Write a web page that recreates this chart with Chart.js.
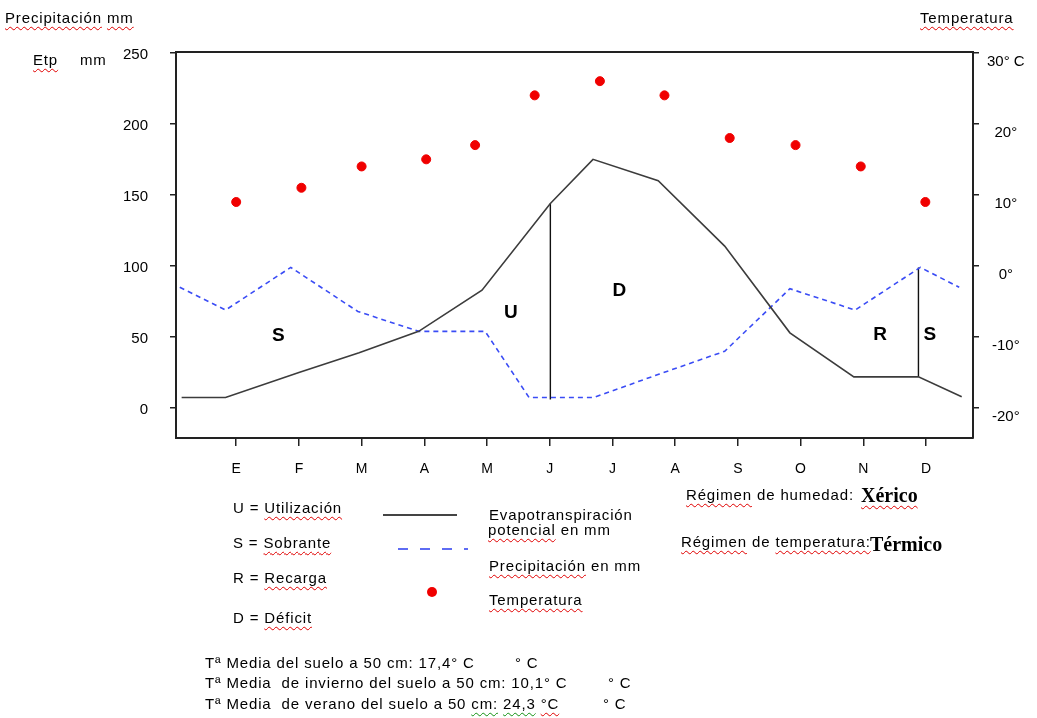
<!DOCTYPE html>
<html>
<head>
<meta charset="utf-8">
<script src="https://cdn.jsdelivr.net/npm/chart.js@4.4.1/dist/chart.umd.min.js"></script>
<style>
  html, body { margin:0; padding:0; background:#fff; }
  #wrap { position:relative; width:1037px; height:718px; overflow:hidden; font-family:"Liberation Sans", Arial, sans-serif; font-size:15px; color:#000; }
  #c { position:absolute; left:0; top:0; }
  .t { position:absolute; white-space:pre; line-height:17px; letter-spacing:0.85px; }
  .w { text-decoration: underline wavy #e00000; text-decoration-thickness:1px; text-underline-offset:3px; }
  .g { text-decoration: underline wavy #109010; text-decoration-thickness:1px; text-underline-offset:3px; }
  .serif { font-family:"Liberation Serif","Times New Roman",serif; font-weight:bold; font-size:20px; letter-spacing:0; }
  svg { position:absolute; left:0; top:0; }
</style>
</head>
<body>
<div id="wrap">
  <canvas id="c" width="1037" height="718"></canvas>
  <svg width="1037" height="718">
    <line x1="383" y1="515" x2="457" y2="515" stroke="#444" stroke-width="2"/>
    <line x1="398" y1="549" x2="468" y2="549" stroke="#2a3cf0" stroke-width="1.6" stroke-dasharray="10 12"/>
    <circle cx="432" cy="592" r="5" fill="#f00000"/>
  </svg>
  <div class="t" style="left:5px;top:9px;"><span class="w">Precipitación</span> <span class="w">mm</span></div>
  <div class="t" style="left:920px;top:9px;"><span class="w">Temperatura</span></div>
  <div class="t" style="left:33px;top:51px;"><span class="w">Etp</span></div>
  <div class="t" style="left:80px;top:51px;">mm</div>

  <div class="t" style="left:233px;top:499px;">U = <span class="w">Utilización</span></div>
  <div class="t" style="left:233px;top:534px;">S = <span class="w">Sobrante</span></div>
  <div class="t" style="left:233px;top:569px;">R = <span class="w">Recarga</span></div>
  <div class="t" style="left:233px;top:609px;">D = <span class="w">Déficit</span></div>

  <div class="t" style="left:489px;top:506px;">Evapotranspiración</div>
  <div class="t" style="left:488px;top:521px;"><span class="w">potencial</span> en mm</div>
  <div class="t" style="left:489px;top:557px;"><span class="w">Precipitación</span> en mm</div>
  <div class="t" style="left:489px;top:591px;"><span class="w">Temperatura</span></div>

  <div class="t" style="left:686px;top:486px;"><span class="w">Régimen</span> de humedad: </div>
  <div class="t serif" style="left:861px;top:484px;line-height:22px;"><span class="w">Xérico</span></div>
  <div class="t" style="left:681px;top:533px;"><span class="w">Régimen</span> de <span class="w">temperatura:</span></div>
  <div class="t serif" style="left:870px;top:533px;line-height:22px;">Térmico</div>

  <div class="t" style="left:205px;top:654px;">Tª Media del suelo a 50 cm: 17,4° C</div>
  <div class="t" style="left:515px;top:654px;">° C</div>
  <div class="t" style="left:205px;top:674px;">Tª Media  de invierno del suelo a 50 cm: 10,1° C</div>
  <div class="t" style="left:608px;top:674px;">° C</div>
  <div class="t" style="left:205px;top:695px;">Tª Media  de verano del suelo a 50 <span class="g">cm:</span> <span class="g">24,3</span> <span class="w">°C</span></div>
  <div class="t" style="left:603px;top:695px;">° C</div>
</div>
<script>
// ---- data ----
const months = ['E','F','M','A','M','J','J','A','S','O','N','D'];
const monthPos = [1,2,3,4,5,6,7,8,9,10,11,12];

const etpX = [0.13, 0.83, 2.0, 2.96, 3.91, 4.92, 6.01, 6.69, 7.73, 8.79, 9.83, 10.85, 11.88, 12.57];
const etpY = [7.5, 7.5, 25, 39, 54, 83, 144, 175, 160, 114, 53, 22, 22, 8];

const precX = [0.10, 0.83, 1.87, 2.94, 3.91, 4.97, 5.67, 6.70, 7.75, 8.79, 9.83, 10.87, 11.91, 12.53];
const precY = [85, 69, 99, 68, 54, 54, 7.5, 7.5, 24, 40, 84, 69, 99, 85];

const tempX = [1.00, 2.04, 3.00, 4.03, 4.81, 5.76, 6.80, 7.83, 8.87, 9.92, 10.96, 11.99];
const tempY = [9, 11, 14, 15, 17, 24, 26, 24, 18, 17, 14, 9];

const vline1X = [6.01, 6.01];
const vline1Y = [144, 6];
const vline2X = [11.88, 11.88];
const vline2Y = [99, 22];

const mmTicks = [0, 50, 100, 150, 200, 250];
const tempTicks = [-20, -10, 0, 10, 20, 30];
const tempTickLabels = ['-20°', '-10°', '0°', '10°', '20°', '30° C'];

const zoneLabels = ['S', 'U', 'D', 'R', 'S'];
const zoneX = [1.67, 5.38, 7.11, 11.27, 12.06];
const zoneY = [50.7, 66.9, 82.4, 51.4, 51.4];

const zip = (xs, ys) => xs.map((x, i) => ({x: x, y: ys[i]}));

const FONT = '"Liberation Sans", Arial, sans-serif';
const AXIS = '#222';

const framePlugin = {
  id: 'frame',
  afterDatasetsDraw(chart) {
    const {ctx, chartArea: a, scales} = chart;
    ctx.save();
    ctx.strokeStyle = AXIS;
    ctx.lineWidth = 2;
    ctx.beginPath();
    ctx.moveTo(a.left, a.top); ctx.lineTo(a.right, a.top);
    ctx.stroke();
    ctx.fillStyle = '#000';
    ctx.font = 'bold 19px ' + FONT;
    ctx.textAlign = 'center';
    ctx.textBaseline = 'middle';
    zoneLabels.forEach((t, i) => {
      ctx.fillText(t, scales.x.getPixelForValue(zoneX[i]), scales.y.getPixelForValue(zoneY[i]));
    });
    ctx.restore();
  }
};

new Chart(document.getElementById('c'), {
  type: 'scatter',
  data: {
    datasets: [
      { label: 'Evapotranspiración potencial en mm', data: zip(etpX, etpY), showLine: true,
        borderColor: '#3c3c3c', borderWidth: 1.6, pointRadius: 0, yAxisID: 'y' },
      { label: 'Precipitación en mm', data: zip(precX, precY), showLine: true,
        borderColor: '#3a4cf5', borderWidth: 1.6, borderDash: [5, 4], pointRadius: 0, yAxisID: 'y' },
      { label: 'Temperatura', data: zip(tempX, tempY), showLine: false,
        backgroundColor: '#f00000', borderColor: '#f00000', pointRadius: 4.5, pointStyle: 'circle', yAxisID: 'y2' },
      { label: 'v1', data: zip(vline1X, vline1Y), showLine: true,
        borderColor: '#111', borderWidth: 1.4, pointRadius: 0, yAxisID: 'y' },
      { label: 'v2', data: zip(vline2X, vline2Y), showLine: true,
        borderColor: '#111', borderWidth: 1.4, pointRadius: 0, yAxisID: 'y' }
    ]
  },
  options: {
    responsive: false,
    animation: false,
    layout: { padding: { top: 52, left: 0, right: 0, bottom: 0 } },
    plugins: { legend: { display: false }, tooltip: { enabled: false } },
    scales: {
      x: {
        type: 'linear', position: 'bottom', min: 0.04, max: 12.75,
        afterBuildTicks: s => { s.ticks = monthPos.map(v => ({ value: v })); },
        afterFit: s => { s.height = 280; },
        ticks: { callback: (v) => months[monthPos.indexOf(v)], color: '#000',
                 font: { family: FONT, size: 14 }, padding: 15, autoSkip: false, maxRotation: 0 },
        grid: { drawOnChartArea: false, drawTicks: true, tickLength: 8, color: AXIS, lineWidth: 1.5 },
        border: { display: true, color: AXIS, width: 2 }
      },
      y: {
        type: 'linear', position: 'left', min: -21, max: 250.5,
        afterBuildTicks: s => { s.ticks = mmTicks.map(v => ({ value: v })); },
        afterFit: s => { s.width = 176; },
        ticks: { color: '#000', font: { family: FONT, size: 15 }, padding: 22, labelOffset: 2 },
        grid: { drawOnChartArea: false, drawTicks: true, tickLength: 6, color: AXIS, lineWidth: 1.5 },
        border: { display: true, color: AXIS, width: 2 }
      },
      y2: {
        type: 'linear', position: 'right', min: -24.2, max: 30.1,
        afterBuildTicks: s => { s.ticks = tempTicks.map(v => ({ value: v })); },
        afterFit: s => { s.width = 64; },
        ticks: { color: '#000', font: { family: FONT, size: 15 }, padding: 8, labelOffset: 9,
                 crossAlign: 'center',
                 callback: (v) => tempTickLabels[tempTicks.indexOf(v)] },
        grid: { drawOnChartArea: false, drawTicks: true, tickLength: 6, color: AXIS, lineWidth: 1.5 },
        border: { display: true, color: AXIS, width: 2 }
      }
    }
  },
  plugins: [framePlugin]
});
</script>
</body>
</html>
